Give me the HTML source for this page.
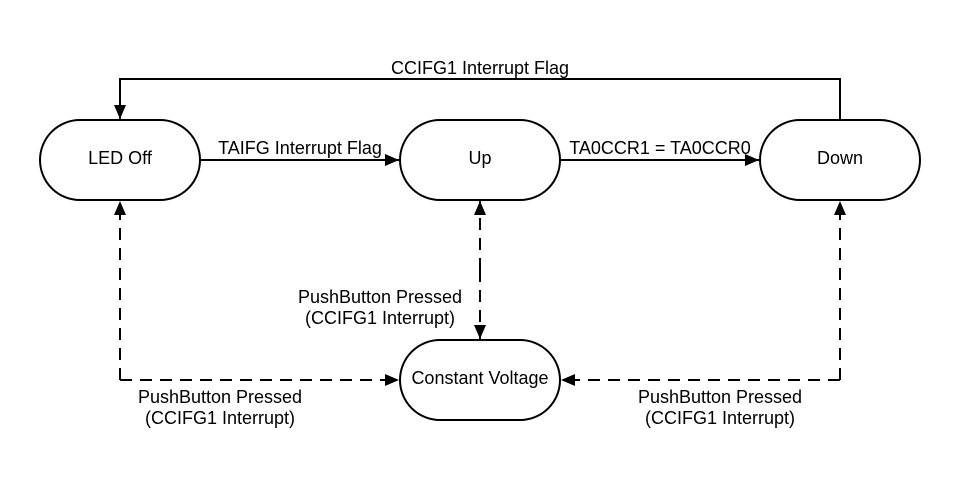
<!DOCTYPE html>
<html><head><meta charset="utf-8"><style>
html,body{margin:0;padding:0;background:#fff;width:960px;height:480px;overflow:hidden}
text{font-family:"Liberation Sans",sans-serif;font-size:18px;fill:#000}
</style></head><body>
<svg width="960" height="480" viewBox="0 0 960 480" xmlns="http://www.w3.org/2000/svg">
<defs>
<marker id="a" markerWidth="14" markerHeight="12" refX="14" refY="6" orient="auto" markerUnits="userSpaceOnUse">
<path d="M0,0 L14,6 L0,12 z" fill="#000"/></marker>
</defs>
<g fill="none" stroke="#000" stroke-width="2">
<rect x="40" y="120" width="160" height="80" rx="40"/>
<rect x="400" y="120" width="160" height="80" rx="40"/>
<rect x="760" y="120" width="160" height="80" rx="40"/>
<rect x="400" y="340" width="160" height="80" rx="40"/>
<path d="M840,120 V79 H120 V119" marker-end="url(#a)"/>
<path d="M200,160 H399" marker-end="url(#a)"/>
<path d="M560,160 H759" marker-end="url(#a)"/>
<g stroke-dasharray="12 8">
<path d="M120,380 V201" marker-end="url(#a)"/>
<path d="M120,380 H399" marker-end="url(#a)"/>
<path d="M480,270 V201" marker-end="url(#a)"/>
<path d="M480,270 V339" marker-end="url(#a)"/>
<path d="M840,380 V201" marker-end="url(#a)"/>
<path d="M840,380 H561" marker-end="url(#a)"/>
</g>
</g>
<g text-anchor="middle">
<text x="120" y="164">LED Off</text>
<text x="480" y="164">Up</text>
<text x="840" y="164">Down</text>
<text x="480" y="384">Constant Voltage</text>
<text x="480" y="74">CCIFG1 Interrupt Flag</text>
<text x="300" y="154">TAIFG Interrupt Flag</text>
<text x="660" y="154">TA0CCR1 = TA0CCR0</text>
<text x="380" y="303">PushButton Pressed</text>
<text x="380" y="324">(CCIFG1 Interrupt)</text>
<text x="220" y="403">PushButton Pressed</text>
<text x="220" y="424">(CCIFG1 Interrupt)</text>
<text x="720" y="403">PushButton Pressed</text>
<text x="720" y="424">(CCIFG1 Interrupt)</text>
</g>
</svg>
</body></html>
